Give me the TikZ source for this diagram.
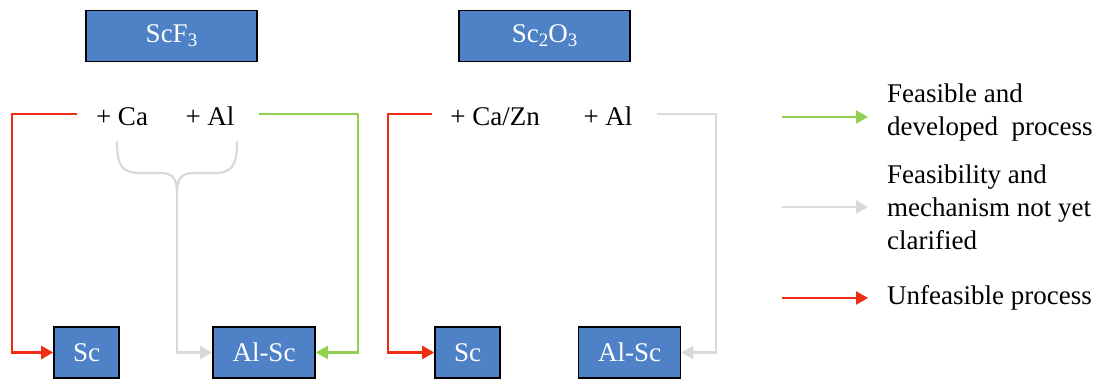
\documentclass[tikz,border=0pt]{standalone}
\usepackage{fontspec}
\setmainfont{Liberation Serif}
\usetikzlibrary{arrows.meta}
\definecolor{boxblue}{RGB}{79,129,199}
\definecolor{cred}{RGB}{240,45,20}
\definecolor{cgreen}{RGB}{146,208,80}
\definecolor{cgray}{RGB}{217,217,217}
\newcommand{\sbs}[1]{\raisebox{-0.3ex}{\fontsize{19}{19}\selectfont #1}}
\tikzset{
  bluebox/.style={draw=black, line width=1.6pt, fill=boxblue, text=white, font=\fontsize{27}{30}\selectfont, minimum height=51pt, inner sep=0pt},
  reagent/.style={font=\fontsize{27}{30}\selectfont, anchor=base, inner sep=0pt},
  legtext/.style={font=\fontsize{27}{33}\selectfont, align=left, anchor=west, inner sep=0pt},
  conn/.style={line width=2.2pt, -{Triangle[length=12pt,width=13pt]}},
  redc/.style={conn, draw=cred},
  greenc/.style={conn, draw=cgreen},
  grayc/.style={conn, draw=cgray},
}
\begin{document}
\begin{tikzpicture}[x=1pt,y=-1pt]
\useasboundingbox (0,0) rectangle (1107,381);
% top boxes
\node[bluebox, minimum width=171pt] (scf3) at (171.5,36) {ScF\sbs{3}};
\node[bluebox, minimum width=171pt] (sc2o3) at (544.5,36) {Sc\sbs{2}O\sbs{3}};
% reagents
\node[reagent] (ca) at (122,125) {+ Ca};
\node[reagent] (al1) at (210,125) {+ Al};
\node[reagent] (cazn) at (495,125) {+ Ca/Zn};
\node[reagent] (al2) at (608,125) {+ Al};
% product boxes
\node[bluebox, minimum width=65pt] (sc1) at (86.5,352.5) {Sc};
\node[bluebox, minimum width=102pt] (alsc1) at (264,352.5) {Al-Sc};
\node[bluebox, minimum width=65pt] (sc2) at (467.5,352.5) {Sc};
\node[bluebox, minimum width=102pt] (alsc2) at (629.5,352.5) {Al-Sc};
% connector start points
\coordinate (r1s) at (77,114);
\coordinate (g1s) at (259,114);
\coordinate (r2s) at (432,114);
\coordinate (g2s) at (657,114);
\coordinate (bl) at (117,141);
\coordinate (br) at (237,141);
\coordinate (bt) at (177,192);
% left section
\draw[redc] (r1s) -- ++(-65,0) |- (sc1.west);
\draw[greenc] (g1s) -- ++(99,0) |- (alsc1.east);
\draw[cgray, line width=2.2pt] (bl) .. controls (117,166) and (122,173) .. (140,173) -- (160,173) .. controls (172,173) and (177,178) .. (bt);
\draw[cgray, line width=2.2pt] (br) .. controls (237,166) and (232,173) .. (214,173) -- (194,173) .. controls (182,173) and (177,178) .. (bt);
\draw[grayc] (bt) |- (alsc1.west);
% right section
\draw[redc] (r2s) -- ++(-44,0) |- (sc2.west);
\draw[grayc] (g2s) -- ++(59,0) |- (alsc2.east);
% legend
\coordinate (lg1) at (782,117); \coordinate (lg1e) at (868,117);
\coordinate (lg2) at (782,207); \coordinate (lg2e) at (868,207);
\coordinate (lg3) at (782,298); \coordinate (lg3e) at (868,298);
\draw[greenc] (lg1) -- (lg1e);
\draw[grayc] (lg2) -- (lg2e);
\draw[redc] (lg3) -- (lg3e);
\node[legtext] (t1) at (887,113) {Feasible and\\developed\ \ process};
\node[legtext] (t2) at (887,207) {Feasibility and\\mechanism not yet\\clarified};
\node[legtext] (t3) at (887,298) {Unfeasible process};
\end{tikzpicture}
\end{document}
